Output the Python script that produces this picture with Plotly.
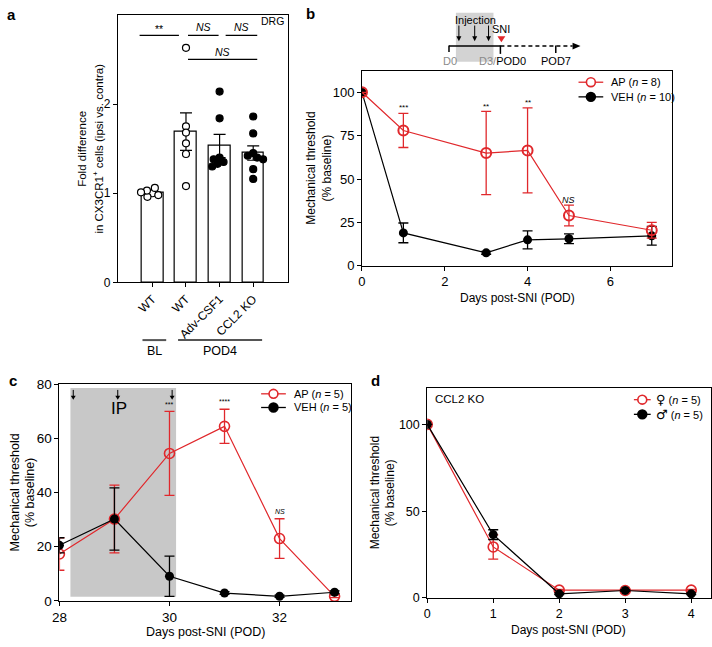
import plotly.graph_objects as go

W, H = 712, 647
RED = "#e0282c"
GRAY = "#8a8a8a"
FONT = "Liberation Sans, Arial, sans-serif"

# ---- panel a: DRG fold difference ----
a_labels = ["WT", "WT", "Adv-CSF1", "CCL2 KO"]
a_means = [1.00, 1.69, 1.53, 1.45]
a_sem = [0.02, 0.21, 0.13, 0.08]
a_wt_bl = [1.00, 0.96, 1.03, 0.98, 1.06, 1.01]
a_wt_pod4 = [2.63, 1.75, 1.68, 1.56, 1.44, 1.08]
a_adv = [2.14, 1.84, 1.40, 1.38, 1.35, 1.33, 1.30]
a_ccl2 = [1.86, 1.67, 1.45, 1.42, 1.40, 1.38, 1.27, 1.16]

# ---- panel b: AP vs VEH before SNI ----
b_days = [0, 1, 3, 4, 5, 7]
b_ap = [100, 78, 65, 66.5, 29, 20.5]
b_ap_err = [0, 9.8, 24, 24.5, 6, 4.5]
b_veh = [100, 19, 7.5, 15, 15.6, 17.3]
b_veh_err = [0, 5.7, 0.8, 5.2, 2.8, 5.4]

# ---- panel c: AP vs VEH after SNI (IP) ----
c_days = [28, 29, 30, 31, 32, 33]
c_ap = [17.3, 30.2, 54.4, 64.4, 23, 1.7]
c_ap_err = [6, 12.5, 15.5, 6.3, 7.3, 0.5]
c_veh = [20.5, 30.2, 9.1, 2.9, 1.7, 3.2]
c_veh_err = [2.8, 11.5, 7.4, 0.5, 0.4, 0.5]

# ---- panel d: CCL2 KO by sex ----
d_days = [0, 1, 2, 3, 4]
d_fem = [100, 29.4, 4.5, 4.3, 4.5]
d_fem_err = [0, 7, 0.5, 0.5, 0.5]
d_male = [100, 36.5, 2.4, 4.3, 2.4]
d_male_err = [0, 2.8, 0.5, 0.5, 0.5]


def px(x):
    return x / W


def py(y):
    return 1 - y / H


def swarm(vals, xppu=34.0, yppu=91.5, diam=6.0):
    # simple beeswarm: nudge points sideways until they stop overlapping
    placed, offs = [], []
    for v in vals:
        yp = v * yppu
        best = None
        for step in range(60):
            for sgn in ([0] if step == 0 else [-1, 1]):
                cand = sgn * step * 0.5
                if all((cand - a) ** 2 + (yp - b) ** 2 >= diam ** 2 for a, b in placed):
                    best = cand
                    break
            if best is not None:
                break
        placed.append((best, yp))
        offs.append(best / xppu)
    return offs


fig = go.Figure()

# panel a
fig.add_trace(go.Bar(
    x=list(range(len(a_means))), y=a_means, width=0.65,
    marker=dict(color="white", line=dict(color="black", width=1.2)),
    error_y=dict(type="data", array=a_sem, color="black", thickness=1.2, width=6),
    xaxis="x", yaxis="y", showlegend=False,
))
groups = [(a_wt_bl, False), (a_wt_pod4, False), (a_adv, True), (a_ccl2, True)]
for i, (vals, filled) in enumerate(groups):
    offs = swarm(vals)
    fig.add_trace(go.Scatter(
        x=[i + o for o in offs], y=vals, mode="markers",
        marker=dict(size=7, color="black" if filled else "white",
                    line=dict(color="black", width=1.2)),
        xaxis="x", yaxis="y", showlegend=False,
    ))

# panel b (VEH first so the AP ring sits on top)
fig.add_trace(go.Scatter(
    x=b_days, y=b_veh, mode="lines+markers",
    line=dict(color="black", width=1.2),
    marker=dict(size=9, color="black"),
    error_y=dict(type="data", array=b_veh_err, color="black", thickness=1.3, width=5),
    xaxis="x2", yaxis="y2", showlegend=False,
))
fig.add_trace(go.Scatter(
    x=b_days, y=b_ap, mode="lines+markers",
    line=dict(color=RED, width=1.2),
    marker=dict(size=10, symbol="circle-open", color=RED, line=dict(width=2, color=RED)),
    error_y=dict(type="data", array=b_ap_err, color=RED, thickness=1.3, width=5),
    xaxis="x2", yaxis="y2", showlegend=False,
))

# panel c
fig.add_trace(go.Scatter(
    x=c_days, y=c_ap, mode="lines+markers",
    line=dict(color=RED, width=1.2),
    marker=dict(size=10, symbol="circle-open", color=RED, line=dict(width=1.6, color=RED)),
    error_y=dict(type="data", array=c_ap_err, color=RED, thickness=1.3, width=5),
    xaxis="x3", yaxis="y3", showlegend=False,
))
fig.add_trace(go.Scatter(
    x=c_days, y=c_veh, mode="lines+markers",
    line=dict(color="black", width=1.2),
    marker=dict(size=9, color="black"),
    error_y=dict(type="data", array=c_veh_err, color="black", thickness=1.3, width=5),
    xaxis="x3", yaxis="y3", showlegend=False,
))

# panel d
fig.add_trace(go.Scatter(
    x=d_days, y=d_fem, mode="lines+markers",
    line=dict(color=RED, width=1.2),
    marker=dict(size=10, symbol="circle-open", color=RED, line=dict(width=1.6, color=RED)),
    error_y=dict(type="data", array=d_fem_err, color=RED, thickness=1.3, width=5),
    xaxis="x4", yaxis="y4", showlegend=False,
))
fig.add_trace(go.Scatter(
    x=d_days, y=d_male, mode="lines+markers",
    line=dict(color="black", width=1.2),
    marker=dict(size=9, color="black"),
    error_y=dict(type="data", array=d_male_err, color="black", thickness=1.3, width=5),
    xaxis="x4", yaxis="y4", showlegend=False,
))

axis = dict(showline=True, linecolor="black", linewidth=1, mirror=True,
            ticks="outside", ticklen=4, tickcolor="black", showgrid=False,
            zeroline=False, tickfont=dict(size=13, color="black"))

fig.update_layout(
    width=W, height=H, margin=dict(l=0, r=0, t=0, b=0),
    paper_bgcolor="white", plot_bgcolor="white",
    font=dict(family=FONT, size=12, color="black"),
    bargap=0, showlegend=False,
    xaxis=dict(axis, domain=[px(111), px(283)], range=[-1.03, 4.03],
               tickvals=list(range(4)), ticktext=a_labels, tickangle=-45,
               tickfont=dict(size=12), anchor="y"),
    yaxis=dict(axis, domain=[py(282), py(8)], range=[0, 3], tickvals=[0, 1, 2], anchor="x",
               tickfont=dict(size=12)),
    xaxis2=dict(axis, domain=[px(358), px(672)], range=[0, 7.5], tickvals=[0, 2, 4, 6], anchor="y2"),
    yaxis2=dict(axis, domain=[py(265), py(66)], range=[0, 112],
                tickvals=[0, 25, 50, 75, 100], anchor="x2"),
    xaxis3=dict(axis, domain=[px(52), px(347)], range=[28, 33.3], tickvals=[28, 30, 32],
                anchor="y3", tickfont=dict(size=13.5)),
    yaxis3=dict(axis, domain=[py(608), py(386)], range=[0, 80],
                tickvals=[0, 20, 40, 60, 80], anchor="x3", tickfont=dict(size=13.5)),
    xaxis4=dict(axis, domain=[px(424), px(711)], range=[0, 4.3], tickvals=[0, 1, 2, 3, 4],
                anchor="y4", tickfont=dict(size=12.5)),
    yaxis4=dict(axis, domain=[py(605), py(390)], range=[0, 121], tickvals=[0, 50, 100],
                anchor="x4", tickfont=dict(size=12.5)),
)

shapes = []
ann = []


def text(x, y, s, size=12, **kw):
    ann.append(dict(x=px(x), y=py(y), xref="paper", yref="paper", text=s, showarrow=False,
                    font=dict(size=size, color=kw.pop("color", "black")),
                    xanchor=kw.pop("xanchor", "center"), yanchor="middle", **kw))


def pline(x0, y0, x1, y1, color="black", width=1, dash=None):
    shapes.append(dict(type="line", xref="paper", yref="paper", x0=px(x0), y0=py(y0),
                       x1=px(x1), y1=py(y1), line=dict(color=color, width=width, dash=dash)))


def tri(pts, color):
    path = "M " + " L ".join(f"{px(x)} {py(y)}" for x, y in pts) + " Z"
    shapes.append(dict(type="path", xref="paper", yref="paper", path=path,
                       fillcolor=color, line=dict(width=0)))


def down_arrow(x, y0, y1, head=5):
    pline(x, y0, x, y1 - head + 1)
    tri([(x - 2.5, y1 - head), (x + 2.5, y1 - head), (x, y1)], "black")


def legend_item(x0, x1, y, label, color, filled, tx, size=11):
    pline(x0, y, x1, y, color=color, width=1.3)
    cx, r = (x0 + x1) / 2, 4.5
    shapes.append(dict(type="circle", xref="paper", yref="paper",
                       x0=px(cx - r), x1=px(cx + r), y0=py(y + r), y1=py(y - r),
                       fillcolor=color if filled else "white",
                       line=dict(color=color, width=1.6)))
    text(tx, y, label, size, xanchor="left")


def sym(ch):
    return f"<span style='font-family:DejaVu Sans;font-size:13px'>{ch}</span>"


# panel labels
text(4, 8, "<b>a</b>", 15)
text(306, 7, "<b>b</b>", 15)
text(5, 382, "<b>c</b>", 15)
text(372, 382, "<b>d</b>", 15)

# panel a annotations
for x0, x1, y in [(-0.38, 0.79, 2.77), (1.06, 1.97, 2.77), (2.18, 3.12, 2.77), (1.06, 3.12, 2.50)]:
    shapes.append(dict(type="line", xref="x", yref="y", x0=x0, x1=x1, y0=y, y1=y,
                       line=dict(color="black", width=1.2)))
for x, y, s in [(0.2, 2.84, "**"), (1.53, 2.86, "<i>NS</i>"), (2.65, 2.86, "<i>NS</i>"),
                (2.09, 2.58, "<i>NS</i>")]:
    ann.append(dict(x=x, y=y, xref="x", yref="y", text=s, showarrow=False,
                    font=dict(size=10.5)))
text(281, 14, "DRG", 10.5, xanchor="right")
text(74, 145, "Fold difference", 11.5, textangle=-90)
text(91, 145, "in CX3CR1<sup>+</sup> cells (ipsi vs. contra)", 11.5, textangle=-90)
pline(136, 341, 160, 341, color="#555555", width=2)
pline(172, 341, 257, 341, color="#555555", width=2)
text(148, 352, "BL", 12.5)
text(214, 352, "POD4", 12.5)

# panel b schematic
shapes.append(dict(type="rect", xref="paper", yref="paper", x0=px(453), x1=px(491),
                   y0=py(56), y1=py(6), fillcolor="#d3d3d3", line=dict(width=0), layer="below"))
pline(446, 40, 498, 40, width=1.5)
pline(498, 40, 571, 40, width=1.5, dash="4px,3px")
pline(446, 39.3, 446, 46, width=1.5)
pline(498, 39.3, 498, 48, width=1.5)
pline(554, 39.3, 554, 47, width=1.5)
tri([(571, 36.5), (579, 40), (571, 43.5)], "black")
tri([(495, 30), (503, 30), (499, 36)], RED)
for xa in [456, 472, 486]:
    down_arrow(xa, 19, 35)
text(473, 13, "Injection", 11)
text(499, 23, "SNI", 11)
text(447, 55, "D0", 11, color=GRAY)
text(500, 55, f"<span style='color:{GRAY}'>D3/</span>POD0", 11)
text(554, 55, "POD7", 11)

# panel b labels + legend
for x, y, s, sz in [(1, 91, "***", 8), (3, 92, "**", 8), (4, 94, "**", 8), (5, 38, "<i>NS</i>", 9)]:
    ann.append(dict(x=x, y=y, xref="x2", yref="y2", text=s, showarrow=False, font=dict(size=sz)))
legend_item(577, 602, 77, "AP (<i>n</i> = 8)", RED, False, 608)
legend_item(577, 602, 92, "VEH (<i>n</i> = 10)", "black", True, 608)
text(307, 165, "Mechanical threshold", 12, textangle=-90)
text(323, 165, "(% baseline)", 12, textangle=-90)
text(515, 298, "Days post-SNI (POD)", 12)

# panel c shading, arrows, labels + legend
shapes.append(dict(type="rect", xref="x3", yref="y3", x0=28.2, x1=30.12, y0=1.5, y1=78.5,
                   fillcolor="#c8c8c8", line=dict(width=0), layer="below"))
for xa in [66, 111, 166]:
    down_arrow(xa, 392, 402, head=4)
ann.append(dict(x=29.08, y=71, xref="x3", yref="y3", text="IP", showarrow=False,
                font=dict(size=17)))
for x, y, s, sz in [(30, 72.5, "***", 7), (31, 73.5, "****", 7), (32, 33, "<i>NS</i>", 7)]:
    ann.append(dict(x=x, y=y, xref="x3", yref="y3", text=s, showarrow=False, font=dict(size=sz)))
legend_item(256, 281, 396, "AP (<i>n</i> = 5)", RED, False, 287)
legend_item(256, 281, 410, "VEH (<i>n</i> = 5)", "black", True, 287)
text(8, 497, "Mechanical threshold", 12.5, textangle=-90)
text(23, 497, "(% baseline)", 12.5, textangle=-90)
text(200, 640, "Days post-SNI (POD)", 12.5)

# panel d labels + legend
text(430, 401, "CCL2 KO", 11.5, xanchor="left")
legend_item(633, 650, 402, sym("♀") + " (<i>n</i> = 5)", RED, False, 653)
legend_item(633, 650, 417, sym("♂") + " (<i>n</i> = 5)", "black", True, 653)
text(372, 497, "Mechanical threshold", 12, textangle=-90)
text(387, 497, "(% baseline)", 12, textangle=-90)
text(567, 638, "Days post-SNI (POD)", 12)

fig.update_layout(shapes=shapes, annotations=ann)
fig.write_html("out.html", config={"displayModeBar": False},
               post_script="document.body.style.margin='0px';")
